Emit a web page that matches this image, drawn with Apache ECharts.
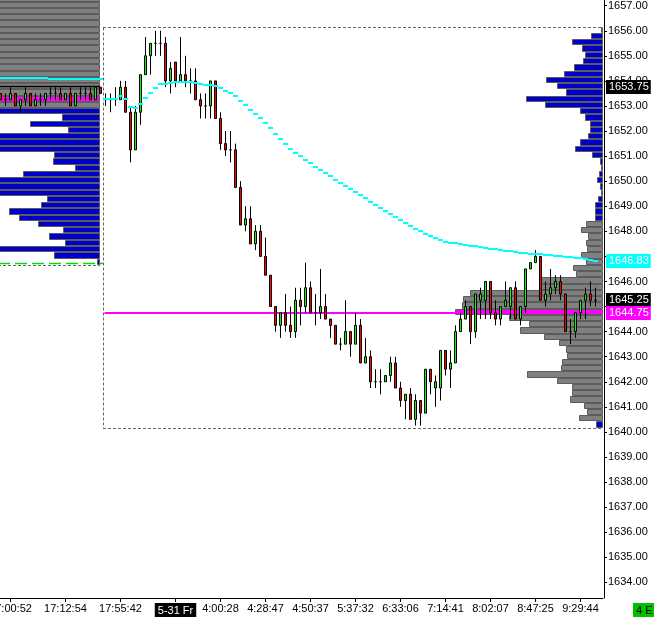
<!DOCTYPE html>
<html><head><meta charset="utf-8">
<script src="https://cdn.jsdelivr.net/npm/echarts@6/dist/echarts.min.js"></script>
<style>html,body{margin:0;padding:0;background:#fff}#c{width:654px;height:619px}</style>
</head><body><div id="c"></div>
<script>
// ---------- data ----------
const labelIndex = [2, 13, 24, 35, 44, 53, 62, 71, 80, 89, 98, 107, 116];
const labelText  = ['17:00:52','17:12:54','17:55:42','5-31 Fr','4:00:28','4:28:47','4:50:37','5:37:32','6:33:06','7:14:41','8:02:07','8:47:25','9:29:44'];
const slotCount = 121;

const opens = [
1653.5,1653.25,1653.25,1653.5,1653.0,1653.25,1653.5,1653.0,1653.25,1653.25,
1653.5,1653.5,1653.5,1653.25,1653.5,1653.0,1653.5,1653.5,1653.5,1653.25,
1653.75,1653.25,1653.25,1653.25,1653.25,1653.75,1652.75,1651.25,1652.75,1654.25,
1655.0,1655.5,1655.5,1655.5,1654.0,1654.75,1654.0,1654.25,1654.0,1654.0,
1653.25,1653.0,1653.0,1654.0,1652.5,1651.5,1651.25,1651.25,1649.75,1648.25,
1648.5,1647.5,1648.0,1647.0,1646.25,1645.0,1644.25,1644.75,1644.25,1644.0,
1645.25,1645.0,1645.75,1644.75,1644.75,1645.0,1644.5,1644.25,1643.5,1643.5,
1644.0,1643.5,1644.25,1642.75,1643.0,1642.0,1642.0,1642.0,1642.25,1642.75,
1641.75,1641.25,1641.5,1640.5,1641.25,1640.75,1642.5,1641.75,1641.75,1643.25,
1642.5,1642.75,1644.0,1644.5,1645.0,1644.0,1645.25,1645.25,1646.0,1644.75,
1644.5,1645.0,1645.0,1645.75,1644.5,1645.0,1646.5,1646.75,1647.0,1645.25,
1645.5,1645.75,1646.0,1645.5,1644.0,1644.0,1644.75,1645.25,1645.5,1645.25];
const highs = [
1653.5,1653.5,1653.75,1653.5,1653.25,1653.75,1653.5,1653.5,1653.5,1653.5,
1653.75,1653.75,1653.75,1653.5,1653.75,1653.5,1653.75,1653.75,1653.75,1653.75,
1653.75,1653.5,1653.5,1653.75,1654.0,1654.0,1653.0,1653.0,1654.25,1655.75,
1655.5,1656.0,1656.0,1655.75,1654.75,1654.75,1655.75,1655.0,1654.5,1654.5,
1653.5,1653.5,1654.0,1654.0,1652.75,1652.0,1652.0,1651.5,1650.0,1649.0,
1649.0,1648.25,1648.25,1647.75,1646.25,1645.0,1644.75,1645.5,1645.0,1645.75,
1645.75,1646.75,1646.0,1645.5,1646.5,1645.5,1644.5,1644.25,1643.75,1645.25,
1644.0,1644.75,1644.5,1643.75,1643.25,1642.5,1642.5,1642.25,1643.0,1643.0,
1642.0,1641.5,1641.75,1641.5,1641.25,1642.5,1642.5,1642.25,1643.25,1643.25,
1643.25,1644.25,1644.75,1645.25,1645.0,1645.5,1645.75,1646.0,1646.0,1645.25,
1645.0,1646.0,1645.75,1646.0,1645.0,1646.5,1646.75,1647.25,1647.0,1646.0,
1646.5,1646.25,1646.25,1645.5,1644.5,1644.75,1645.25,1645.75,1646.0,1645.75];
const lows = [
1653.25,1653.0,1653.25,1653.0,1652.75,1653.0,1653.0,1653.0,1653.0,1653.0,
1653.25,1653.25,1653.25,1653.25,1653.0,1653.0,1653.25,1653.25,1653.25,1653.25,
1653.5,1653.0,1652.75,1653.0,1653.25,1652.75,1650.75,1651.25,1652.25,1654.25,
1654.25,1655.0,1655.0,1653.75,1653.5,1653.75,1654.0,1653.75,1653.5,1653.25,
1652.5,1652.5,1652.5,1652.5,1651.25,1651.0,1650.75,1649.75,1648.25,1648.0,
1647.5,1647.25,1647.0,1646.25,1645.0,1644.0,1643.75,1644.0,1643.75,1643.75,
1644.25,1644.75,1644.75,1644.25,1644.5,1644.5,1643.75,1643.5,1643.25,1643.5,
1643.0,1643.5,1642.75,1642.75,1641.75,1641.75,1641.5,1642.0,1642.0,1641.75,
1641.0,1640.5,1640.5,1640.25,1640.25,1640.75,1641.5,1641.0,1641.25,1642.25,
1641.75,1642.75,1644.0,1644.5,1643.5,1643.75,1644.5,1644.5,1644.5,1644.25,
1644.25,1645.0,1644.5,1644.5,1644.25,1644.75,1646.5,1646.75,1645.25,1645.0,
1645.25,1645.5,1645.25,1644.0,1643.5,1643.75,1644.5,1644.5,1645.0,1645.0];
const closes = [
1653.25,1653.25,1653.5,1653.0,1653.25,1653.5,1653.0,1653.25,1653.25,1653.5,
1653.5,1653.5,1653.25,1653.5,1653.0,1653.5,1653.5,1653.5,1653.25,1653.75,
1653.5,1653.25,1653.25,1653.25,1653.75,1652.75,1651.25,1652.75,1654.25,1655.0,
1655.5,1655.5,1655.5,1654.0,1654.5,1654.0,1654.25,1654.0,1654.0,1653.25,
1653.0,1653.0,1654.0,1652.5,1651.5,1651.25,1651.25,1649.75,1648.25,1648.5,
1647.5,1648.0,1647.0,1646.25,1645.0,1644.25,1644.75,1644.25,1644.0,1645.25,
1645.0,1645.75,1644.75,1644.75,1645.0,1644.5,1644.25,1643.5,1643.5,1644.0,
1643.5,1644.25,1642.75,1643.0,1642.0,1642.0,1642.0,1642.25,1642.75,1641.75,
1641.25,1641.5,1640.5,1641.25,1640.75,1642.5,1642.0,1642.0,1643.25,1642.5,
1642.75,1644.0,1644.5,1645.0,1644.0,1645.5,1645.5,1646.0,1644.75,1644.5,
1645.0,1645.25,1645.75,1644.5,1645.0,1646.5,1646.75,1647.0,1645.25,1645.5,
1645.75,1646.0,1645.5,1644.0,1644.0,1644.75,1645.25,1645.5,1645.25,1645.25];

const vwap = [
1654.12,1654.12,1654.12,1654.12,1654.12,1654.12,1654.12,1654.12,1654.12,1654.12,
1654.09,1654.09,1654.09,1654.09,1654.09,1654.09,1654.09,1654.09,1654.09,1654.09,1654.09,
1653.28,1653.28,1653.28,1653.40,1653.28,1652.97,1652.92,1653.08,1653.32,1653.53,
1653.72,1653.89,1653.89,1653.93,1653.97,1653.97,1653.97,1653.97,1653.93,1653.89,
1653.85,1653.85,1653.81,1653.72,1653.61,1653.53,1653.40,1653.21,1653.05,1652.85,
1652.69,1652.52,1652.33,1652.13,1651.88,1651.70,1651.50,1651.30,1651.14,1651.02,
1650.86,1650.74,1650.58,1650.46,1650.34,1650.22,1650.06,1649.94,1649.82,1649.68,
1649.58,1649.46,1649.34,1649.17,1649.06,1648.94,1648.82,1648.70,1648.58,1648.46,
1648.35,1648.23,1648.11,1648.03,1647.91,1647.83,1647.75,1647.67,1647.59,1647.55,
1647.52,1647.49,1647.46,1647.43,1647.40,1647.37,1647.34,1647.31,1647.28,1647.26,
1647.23,1647.20,1647.17,1647.15,1647.13,1647.11,1647.09,1647.08,1647.06,1647.04,
1647.03,1647.01,1646.99,1646.97,1646.94,1646.92,1646.89,1646.86,1646.83];

// volume profile of the current session (right side)
const rightBluePrices = [1656.0,1655.75,1655.5,1655.25,1655.0,1654.75,1654.5,1654.25,1654.0,1653.75,1653.5,1653.25,1653.0,1652.75,1652.5,1652.25,1652.0,1651.75,1651.5,1651.25,1651.0,1650.75,1650.5,1650.25,1650.0,1649.75,1649.5,1649.25,1649.0,1648.75,1648.5,1640.25];
const rightBlueVols   = [2,12.5,31.5,21.5,18.5,20,29,39,57,46,37,77,58,23,18,13,13,15,23,28,11.5,3.5,2.5,4.5,6.5,3.5,2.5,5.5,8.5,8.5,8.5,6.6];
const rightGrayPrices = [1648.25,1648.0,1647.75,1647.5,1647.25,1647.0,1646.75,1646.5,1646.25,1646.0,1645.75,1645.5,1645.25,1645.0,1644.5,1644.25,1644.0,1643.75,1643.5,1643.25,1643.0,1642.75,1642.5,1642.25,1642.0,1641.75,1641.5,1641.25,1641.0,1640.75,1640.5];
const rightGrayVols   = [17.3,22,15,17.5,16,22.5,16.6,30,27,64,63,133,140,141,94,74,82.6,59,44,37.3,36,41,42.3,76,46,30.6,30.6,33,19,16,24];
const rightPocPrices  = [1644.75];
const rightPocVols    = [148];

// volume profile of the previous session (left side)
const leftGrayPrices = [1657.25,1657.0,1656.75,1656.5,1656.25,1656.0,1655.75,1655.5,1655.25,1655.0,1654.75,1654.5,1654.25,1654.0,1653.75,1653.5,1653.0];
const leftGrayVols   = [142,150,158,165,171,168,160,155,162,170,176,181,178,172,185,190,188];
const leftPocPrices  = [1653.25];
const leftPocVols    = [205];
const leftBluePrices = [1652.75,1652.5,1652.25,1652.0,1651.75,1651.5,1651.25,1651.0,1650.75,1650.5,1650.25,1650.0,1649.75,1649.5,1649.25,1649.0,1648.75,1648.5,1648.25,1648.0,1647.75,1647.5,1647.25,1647.0,1646.75];
const leftBlueVols   = [130,38,70,32,125,140,118,46,47,25,77,135,128,112,53,59,91,81,62,37,51,35,110,46,3];

// levels
const sessionBoxTop = 1656.16, sessionBoxBottom = 1640.14;
const pocLevel = 1644.75;
const prevHighLevel = 1653.8, prevLowLevel = 1646.75, prevBoxBottom = 1646.66;
const tagPrices = [1653.75, 1646.83, 1645.25, 1644.75];

// ---------- chart ----------
const Y_MAX = 1657.2274, Y_MIN = 1633.3737;
const FONT = 'Liberation Sans, Arial, sans-serif';
const catLabels = new Array(slotCount).fill('');
labelIndex.forEach((k, i) => { catLabels[k] = labelText[i]; });
const categories = catLabels.map((_, i) => 'c' + i);

const chart = echarts.init(document.getElementById('c'), null, {renderer: 'canvas'});

function profileRenderer(fill) {
  return function (params, api) {
    const vol = api.value(0), price = api.value(1);
    const tl = api.coord([vol, price + 0.165]);
    const br = api.coord([0, price - 0.085]);
    const x0 = Math.round(tl[0]), x1 = Math.round(br[0]);
    const y0 = Math.round(tl[1]), y1 = Math.round(br[1]);
    return {type: 'rect', shape: {x: x0 + 0.5, y: y0 + 0.5, width: Math.max(x1 - x0 - 1, 0), height: y1 - y0 - 1},
      style: {fill: fill, stroke: '#5c5c5c', lineWidth: 1}};
  };
}
function profileSeries(grid, prices, vols, fill) {
  return {type: 'custom', xAxisIndex: grid, yAxisIndex: grid, z: 1,
    data: prices.map((p, i) => [vols[i], p]), encode: {x: 0, y: 1},
    renderItem: profileRenderer(fill), silent: true};
}

const tagBg = ['#000000', '#00ffff', '#000000', '#ff00ff'];

const option = {
  animation: false,
  backgroundColor: '#ffffff',
  grid: [
    {left: -2, top: 0, width: 605, height: 598, outerBoundsMode: 'none', containLabel: false},
    {left: 403, top: 0, width: 200, height: 598, outerBoundsMode: 'none', containLabel: false},
    {left: -100, top: 0, width: 200, height: 598, outerBoundsMode: 'none', containLabel: false},
    {left: 400, top: -19.37, width: 204, height: 601.68, outerBoundsMode: 'none', containLabel: false}
  ],
  xAxis: [
    {type: 'category', gridIndex: 0, data: categories, boundaryGap: true,
      axisLine: {show: true, onZero: false, lineStyle: {color: '#000', width: 1}},
      axisTick: {show: true, alignWithLabel: true, length: 4, lineStyle: {color: '#000'},
        interval: (idx) => catLabels[idx] !== ''},
      axisLabel: {show: true, margin: 5, color: '#000', fontSize: 11, fontFamily: FONT,
        interval: (idx) => catLabels[idx] !== '',
        formatter: (val, idx) => { const t = catLabels[idx]; return t === '5-31 Fr' ? '{d|' + t + '}' : t; },
        rich: {d: {backgroundColor: '#000', color: '#fff', fontSize: 11, fontFamily: FONT, padding: [2, 3, 1, 3]}}},
      splitLine: {show: false}},
    {type: 'value', gridIndex: 1, inverse: true, min: 0, max: 200, show: false},
    {type: 'value', gridIndex: 2, inverse: true, min: 0, max: 200, show: false},
    {type: 'value', gridIndex: 3, show: false, min: 0, max: 1}
  ],
  yAxis: [
    {type: 'value', gridIndex: 0, position: 'right', offset: 1, min: Y_MIN, max: Y_MAX, scale: true,
      axisLine: {show: true, onZero: false, lineStyle: {color: '#000', width: 1}},
      axisTick: {show: false}, axisLabel: {show: false}, splitLine: {show: false}},
    {type: 'value', gridIndex: 1, min: Y_MIN, max: Y_MAX, show: false, scale: true},
    {type: 'value', gridIndex: 2, min: Y_MIN, max: Y_MAX, show: false, scale: true},
    {type: 'value', gridIndex: 3, position: 'right', min: 1634, max: 1658, interval: 1,
      axisLine: {show: false, onZero: false}, splitLine: {show: false},
      axisTick: {show: true, inside: false, length: 3, lineStyle: {color: '#000'}},
      axisLabel: {show: true, margin: 4, color: '#000', fontSize: 11, fontFamily: FONT,
        formatter: (v) => tagPrices.some((t) => Math.abs(t - v) < 0.2) ? '' : v.toFixed(2)}}
  ],
  series: [
    profileSeries(2, leftGrayPrices, leftGrayVols, '#808080'),
    profileSeries(2, leftPocPrices, leftPocVols, '#ff00ff'),
    profileSeries(2, leftBluePrices, leftBlueVols, '#0000c8'),
    profileSeries(1, rightGrayPrices, rightGrayVols, '#808080'),
    profileSeries(1, rightPocPrices, rightPocVols, '#ff00ff'),
    profileSeries(1, rightBluePrices, rightBlueVols, '#0000c8'),
    {
      type: 'custom', xAxisIndex: 0, yAxisIndex: 0, z: 2, silent: true,
      data: [[0, pocLevel]], encode: {x: 0, y: 1},
      renderItem: function (params, api) {
        const bw = api.size([1, 0])[0];
        const x0 = api.coord([0, pocLevel])[0];
        const X = (f) => x0 + f * bw;
        const Y = (p) => Math.round(api.coord([0, p])[1]) + 0.5;
        const kids = [];
        const seg = (f0, f1, p, style) => kids.push({type: 'line', shape: {x1: X(f0), y1: Y(p), x2: X(f1), y2: Y(p)}, style: style});
        const dash = {stroke: '#666', lineWidth: 1, lineDash: [3, 2]};
        seg(20.5, 120.5, sessionBoxTop, dash);
        seg(20.5, 120.5, sessionBoxBottom, dash);
        kids.push({type: 'line', shape: {x1: Math.round(X(20.5)) + 0.5, y1: Y(sessionBoxTop), x2: Math.round(X(20.5)) + 0.5, y2: Y(sessionBoxBottom)}, style: dash});
        seg(-0.5, 19.9, prevHighLevel, {stroke: '#000', lineWidth: 1.5});
        seg(-0.5, 20.5, prevLowLevel, {stroke: '#00dd00', lineWidth: 1.5, lineDash: [12, 5]});
        seg(-0.5, 19.9, prevBoxBottom, dash);
        kids.push({type: 'line', shape: {x1: X(20.8), y1: Y(pocLevel) - 0.5, x2: X(120.5), y2: Y(pocLevel) - 0.5}, style: {stroke: '#ff00ff', lineWidth: 2}});
        return {type: 'group', children: kids};
      }
    },
    {
      type: 'candlestick', xAxisIndex: 0, yAxisIndex: 0, z: 3, silent: true,
      data: opens.map((o, i) => [o, closes[i], lows[i], highs[i]]),
      barWidth: 3,
      itemStyle: {color: '#00ff00', color0: '#ff0000', borderColor: '#000', borderColor0: '#000', borderColorDoji: '#000', borderWidth: 1}
    },
    {
      type: 'custom', xAxisIndex: 0, yAxisIndex: 0, z: 4, silent: true,
      data: vwap.map((v, i) => [i, v]), encode: {x: 0, y: 1},
      renderItem: function (params, api) {
        const p = api.coord([api.value(0), api.value(1)]);
        const w = api.size([1, 0])[0];
        return {type: 'rect', shape: {x: p[0] - w / 2, y: Math.round(p[1]) - 1, width: w, height: 2}, style: {fill: '#00ffff'}};
      }
    },
    {
      type: 'custom', xAxisIndex: 0, yAxisIndex: 0, z: 10, silent: true, clip: false,
      data: tagPrices.map((p, i) => [i, p]), encode: {x: 0, y: 1},
      renderItem: function (params, api) {
        const bw = api.size([1, 0])[0];
        const x0 = api.coord([0, api.value(1)])[0];
        const y = api.coord([0, api.value(1)])[1];
        const xr = x0 + 120.5 * bw;
        return {type: 'text', x: xr + 3, y: Math.round(y), z2: 100,
          style: {text: api.value(1).toFixed(2), fill: '#fff', font: '11px ' + FONT,
            backgroundColor: tagBg[params.dataIndex], padding: [2, 2, 1, 3], verticalAlign: 'middle', align: 'left'}};
      }
    }
  ],
  graphic: [
    {type: 'text', left: 633, top: 603, z: 100,
      style: {text: '4 E', fill: '#000', font: '11px ' + FONT, backgroundColor: '#00c000', padding: [2, 2, 1, 3]}}
  ]
};
chart.setOption(option);
</script>
</body></html>
